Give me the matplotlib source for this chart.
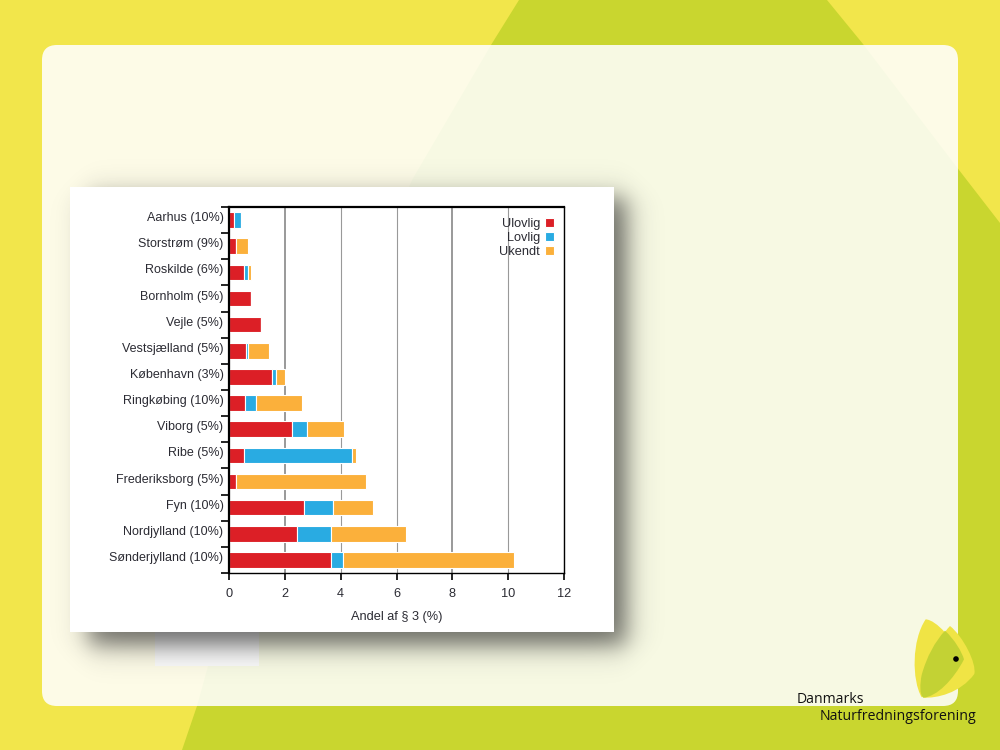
import numpy as np
import matplotlib
matplotlib.use('Agg')
import matplotlib.pyplot as plt
from matplotlib.patches import Polygon, FancyBboxPatch, PathPatch, Circle, Rectangle
from matplotlib.path import Path
from matplotlib.transforms import ScaledTranslation

plt.rcParams['font.family'] = ['Liberation Sans', 'DejaVu Sans']

amter = ['Aarhus (10%)', 'Storstrøm (9%)', 'Roskilde (6%)', 'Bornholm (5%)', 'Vejle (5%)',
         'Vestsjælland (5%)', 'København (3%)', 'Ringkøbing (10%)', 'Viborg (5%)', 'Ribe (5%)',
         'Frederiksborg (5%)', 'Fyn (10%)', 'Nordjylland (10%)', 'Sønderjylland (10%)']
ulovlig = [0.19, 0.24, 0.52, 0.80, 1.16, 0.62, 1.55, 0.56, 2.27, 0.52, 0.24, 2.69, 2.43, 3.67]
lovlig = [0.24, 0.00, 0.17, 0.00, 0.00, 0.05, 0.15, 0.42, 0.53, 3.87, 0.00, 1.02, 1.24, 0.40]
ukendt = [0.00, 0.44, 0.09, 0.00, 0.00, 0.77, 0.31, 1.62, 1.33, 0.17, 4.68, 1.44, 2.66, 6.13]
xticks = [0, 2, 4, 6, 8, 10, 12]

YELLOW = '#f2e64b'
GREEN = '#c9d62f'
RED = '#dc1f26'
BLUE = '#29abe2'
ORANGE = '#fbb03b'
TXT = '#2b2b33'

fig = plt.figure(figsize=(10, 7.5), dpi=100, facecolor=YELLOW)

# background in pixel coordinates
bg = fig.add_axes([0, 0, 1, 1])
bg.set_xlim(0, 1000)
bg.set_ylim(750, 0)
bg.axis('off')

green_shape = [(519, 0), (827, 0), (863, 44), (959, 170), (1000, 223), (1000, 750),
               (182, 750), (197, 706), (208, 666), (412, 180), (491, 45)]
bg.add_patch(Polygon(green_shape, closed=True, fc=GREEN, ec='none'))
bg.add_patch(FancyBboxPatch((57, 60), 886, 631, boxstyle='round,pad=15,rounding_size=15',
                            fc='white', ec='none', alpha=0.87))
bg.add_patch(Rectangle((155, 625), 104, 41, fc='#fbfbfb', ec='none'))

# soft shadow behind the chart card
xx, yy = np.meshgrid(np.arange(40, 690), np.arange(150, 700))


def edge(v, a, b, s=7.5):
    return 1 / (1 + np.exp(-(v - a) / s)) * 1 / (1 + np.exp((v - b) / s))


shadow = np.zeros(xx.shape + (4,))
shadow[..., :3] = 0.15
shadow[..., 3] = 0.68 * edge(xx, 88, 626) * edge(yy, 197, 645)
bg.imshow(shadow, extent=(40, 690, 700, 150), interpolation='bilinear', aspect='auto', zorder=3)
bg.set_xlim(0, 1000)
bg.set_ylim(750, 0)
bg.add_patch(Rectangle((70, 187), 544, 445, fc='white', ec='none', zorder=4))


# logo, points
def lz(pts):
    return [(780 + x / 3, 600 + y / 3) for x, y in pts]


def leaf(pts, color):
    codes = [Path.MOVETO] + [Path.CURVE4] * (len(pts) - 2) + [Path.CLOSEPOLY]
    bg.add_patch(PathPatch(Path(lz(pts), codes), fc=color, ec='none', zorder=5))


leaf([(437, 58), (395, 120), (395, 240), (425, 292), (470, 250), (530, 220), (552, 178),
      (520, 120), (470, 60), (437, 58), (437, 58)], '#f0e445')
leaf([(510, 78), (550, 110), (590, 190), (583, 222), (540, 280), (470, 295), (430, 293),
      (440, 200), (470, 120), (510, 78), (510, 78)], '#f0e445')
leaf([(495, 92), (525, 120), (545, 155), (552, 178), (520, 240), (470, 290), (430, 293),
      (418, 285), (420, 250), (425, 225), (440, 170), (465, 125), (495, 92), (495, 92)], '#c3d234')
bg.add_patch(Circle((956, 659), 2.8, fc='black', ec='none', zorder=6))
bg.text(797, 703, 'Danmarks', fontsize=10.1, family='Open Sans', color='#111111', zorder=6)
bg.text(820, 720, 'Naturfredningsforening', fontsize=10.2, family='Open Sans', color='#111111', zorder=6)

# the chart
ax = fig.add_axes([229 / 1000, 1 - 573 / 750, 335 / 1000, 366 / 750], zorder=10)
ax.set_facecolor('white')
y = np.arange(len(amter))
left2 = np.array(ulovlig)
left3 = left2 + np.array(lovlig)
bar_kw = dict(height=0.6, edgecolor='white', linewidth=0.8, zorder=3)
h1 = ax.barh(y, ulovlig, color=RED, label='Ulovlig', **bar_kw)
h2 = ax.barh(y, lovlig, left=left2, color=BLUE, label='Lovlig', **bar_kw)
h3 = ax.barh(y, ukendt, left=left3, color=ORANGE, label='Ukendt', **bar_kw)

ax.set_xlim(0, 12)
ax.set_ylim(13.5, -0.5)
ax.set_yticks(y)
ax.set_yticklabels(amter, fontsize=9.0, color=TXT)
ax.set_yticks(np.arange(-0.5, 14), minor=True)
ax.tick_params(axis='y', which='major', length=0, pad=4)
ax.tick_params(axis='y', which='minor', length=6, width=1.2, color='black')
up = ScaledTranslation(0, 2.5 / 72, fig.dpi_scale_trans)
for lab in ax.get_yticklabels():
    lab.set_transform(lab.get_transform() + up)
ax.set_xticks(xticks)
ax.tick_params(axis='x', length=5, width=1.2, labelsize=9.2, labelcolor=TXT, pad=5.5)
ax.set_xlabel('Andel af § 3 (%)', fontsize=9.2, color=TXT, labelpad=8)

ax.grid(axis='x', color='#999999', linewidth=0.8, zorder=1)
ax.set_axisbelow(True)
for i, line in enumerate(ax.get_xgridlines()):
    if xticks[i] in (2, 8):
        line.set_linewidth(1.4)

for side, lw in zip(['left', 'top', 'bottom', 'right'], [1.6, 1.6, 1.0, 1.0]):
    ax.spines[side].set_linewidth(lw)
    ax.spines[side].set_zorder(5)

leg = ax.legend(handles=[h1, h2, h3], loc='upper right', frameon=False, markerfirst=False,
                fontsize=9.2, handlelength=0.68, handleheight=0.68, handletextpad=0.4,
                labelspacing=0.17, borderpad=0, borderaxespad=0, bbox_to_anchor=(0.97, 0.97),
                labelcolor=TXT)
for t in leg.get_texts():
    t.set_ha('right')

fig.savefig('out.png', dpi=100, facecolor=YELLOW)
